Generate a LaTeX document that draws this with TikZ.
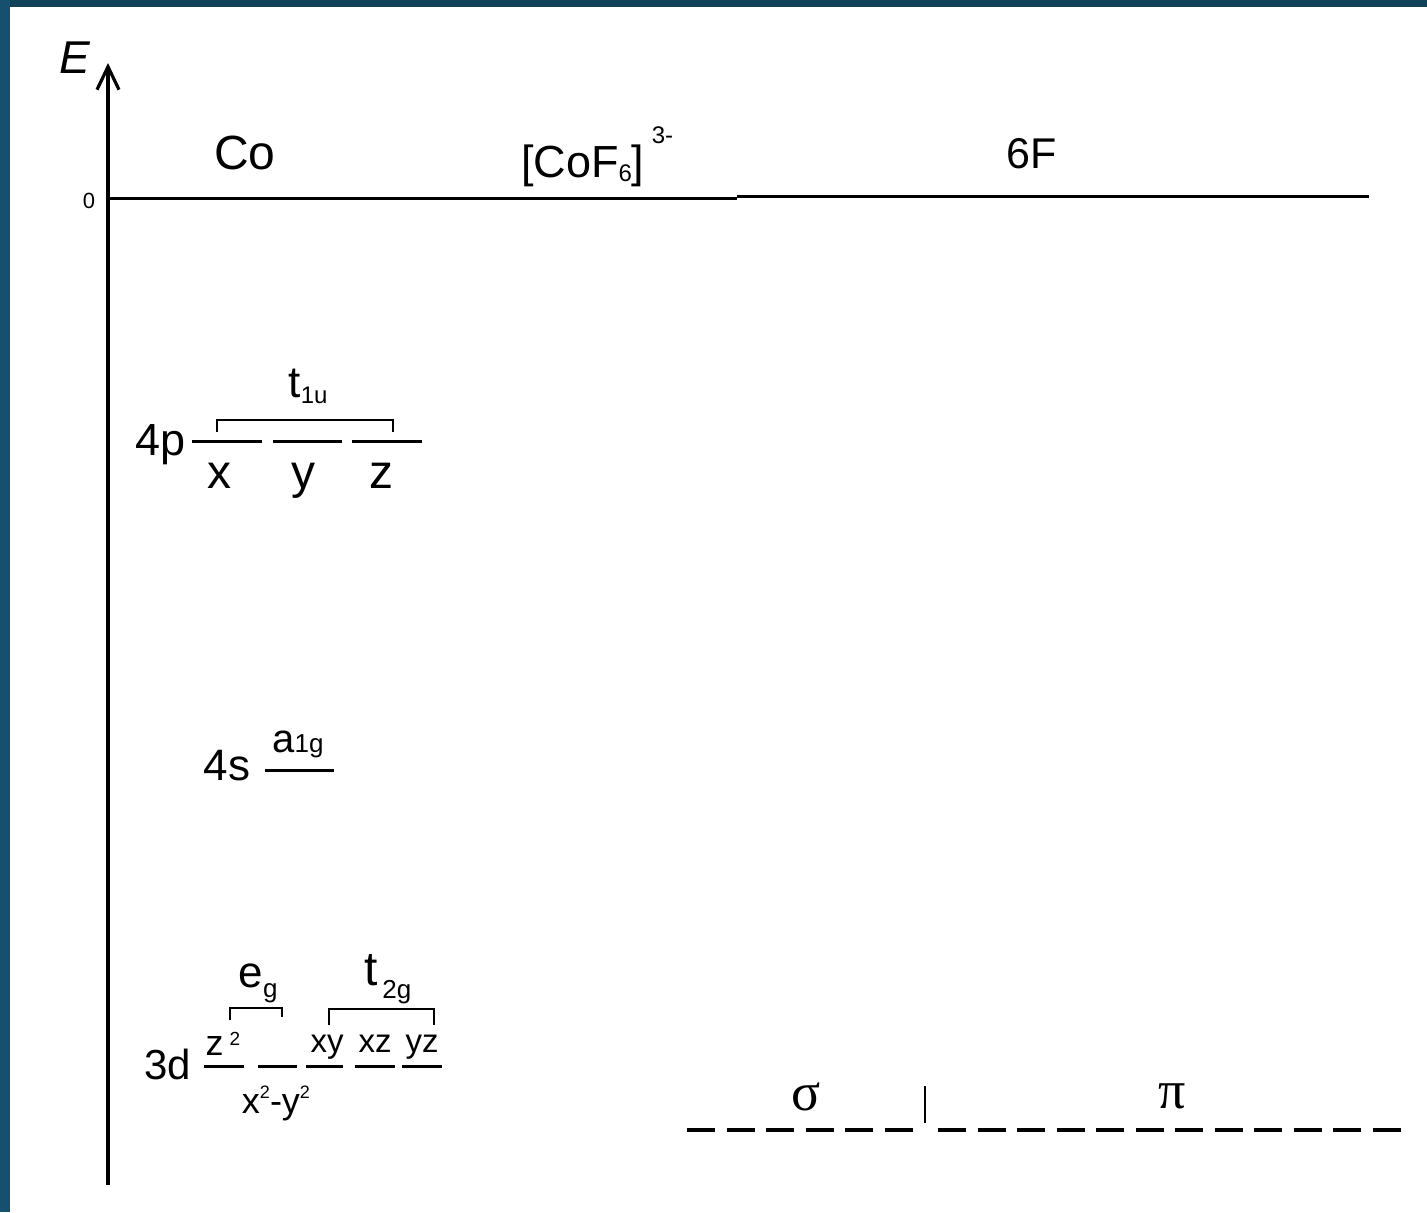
\documentclass[tikz,border=0pt]{standalone}
\usepackage{fontspec}
\setmainfont{Liberation Sans}
\newfontfamily\serifgr{Liberation Serif}
\usetikzlibrary{arrows.meta}
\definecolor{topblue}{RGB}{17,66,90}
\definecolor{leftblue}{RGB}{22,80,110}
\newcommand\fsz[1]{\fontsize{#1}{#1}\selectfont}
\begin{document}
\begin{tikzpicture}[x=0.5pt,y=-0.5pt,
  every node/.style={inner sep=0pt, outer sep=0pt, anchor=base},
  lvl/.style={line width=1.5pt},
  brk/.style={line width=0.65pt},
  axisline/.style={line width=1.6pt},
  dashlvl/.style={line width=2pt, dash pattern=on 14pt off 5.75pt}]
% frame
\useasboundingbox (0,0) rectangle (1427,1212);
\fill[white] (0,0) rectangle (1427,1212);
\fill[topblue] (0,0) rectangle (1427,7);
\fill[leftblue] (0,0) rectangle (10,1212);
% energy axis
\coordinate (axb) at (108,1185);
\coordinate (axt) at (108,63);
\draw[axisline, -{Straight Barb[length=11.5pt,width=11pt]}] (axb) -- (axt);
\node (E) at (75,73) {\fsz{23pt}\itshape E};
\node (zero) at (89,208) {\fsz{11pt}0};
% zero line
\coordinate (z0) at (108,198);
\coordinate (z1) at (737,198);
\coordinate (z2) at (737,196.5);
\coordinate (z3) at (1369,196.5);
\draw[line width=1.5pt] (z0) -- (z1);
\draw[line width=1.8pt] (z2) -- (z3);
% column titles
\node (co) at (245,169) {\fsz{24pt}Co};
\node[anchor=base west] (cof) at (521,177) {\fsz{22.5pt}[CoF\raisebox{-2pt}{\fsz{12pt}6}]\,\raisebox{17pt}{\fsz{12pt}3-}};
\node (sixf) at (1032,168) {\fsz{21.5pt}6F};
% 4p
\node (l4p) at (161,455) {\fsz{22.5pt}4p};
\draw[lvl] (192,441) -- (262,441);
\draw[lvl] (273,441) -- (342,441);
\draw[lvl] (352,441) -- (422,441);
\draw[brk] (217,432) -- (217,420) -- (393,420) -- (393,432);
\node (t1u) at (308,397) {\fsz{22pt}t\raisebox{-3pt}{\fsz{12pt}1u}};
\node (px) at (219,488) {\fsz{24pt}x};
\node (py) at (303,488) {\fsz{24pt}y};
\node (pz) at (381,488) {\fsz{24pt}z};
% 4s
\node (l4s) at (227,780) {\fsz{22pt}4s};
\draw[lvl] (265,770) -- (334,770);
\node (a1g) at (298,752) {\fsz{20pt}a\fsz{13pt}1g};
% 3d
\node (l3d) at (168,1079) {\fsz{21pt}3d};
\draw[lvl] (204,1066) -- (244,1066);
\draw[lvl] (258,1066) -- (297,1066);
\draw[lvl] (306,1066) -- (343,1066);
\draw[lvl] (355,1066) -- (395,1066);
\draw[lvl] (402,1066) -- (442,1066);
\draw[brk] (230,1020) -- (230,1008) -- (282,1008) -- (282,1017);
\draw[brk] (329,1025) -- (329,1009) -- (434,1009) -- (434,1025);
\node (eg) at (258,987) {\fsz{22pt}e\raisebox{-5pt}{\fsz{13pt}g}};
\node (t2g) at (388,985) {\fsz{24pt}t\raisebox{-6.5pt}{\fsz{13pt}\,2g}};
\node (dz2) at (223,1055) {\fsz{18pt}z\,\raisebox{5pt}{\fsz{9.5pt}2}};
\node (dx2y2) at (276,1113) {\fsz{18pt}x\raisebox{7.5pt}{\fsz{9pt}2}-y\raisebox{7.5pt}{\fsz{9pt}2}};
\node (dxy) at (327,1052) {\fsz{16.5pt}xy};
\node (dxz) at (375,1052) {\fsz{16.5pt}xz};
\node (dyz) at (422,1052) {\fsz{16.5pt}yz};
% ligand group orbitals
\draw[dashlvl] (687,1130) -- (914,1130);
\draw[dashlvl] (938,1130) -- (1401,1130);
\draw[line width=1.3pt] (925,1086) -- (925,1123);
\node (sig) at (806,1110) {\fsz{27pt}\serifgr σ};
\node (pi) at (1172,1108) {\fsz{27pt}\serifgr π};
\end{tikzpicture}
\end{document}
